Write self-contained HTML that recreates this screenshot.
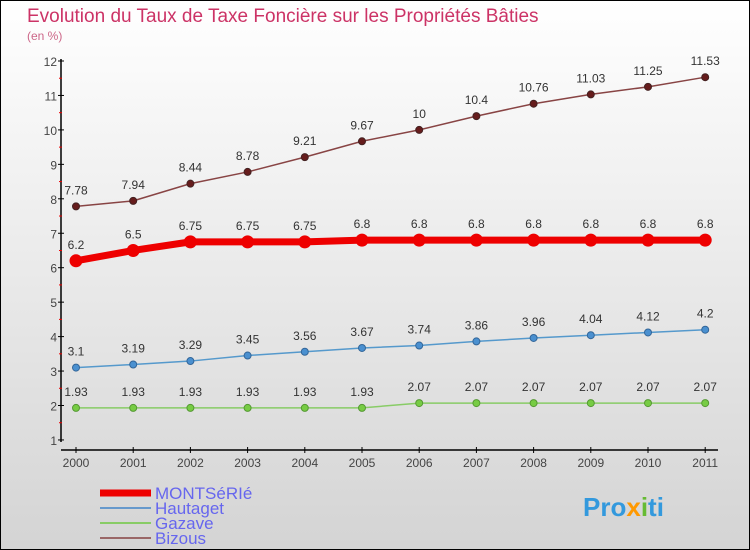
<!DOCTYPE html>
<html><head><meta charset="utf-8"><style>
body{margin:0}
#c{position:relative;width:750px;height:550px;box-sizing:border-box;border:1px solid #000;background:linear-gradient(#ffffff,#d4d4d4);font-family:"Liberation Sans",sans-serif;overflow:hidden}
</style></head><body>
<div id="c">
<svg width="750" height="550" style="position:absolute;left:-1px;top:-1px" id="svg">
<text x="27" y="22" font-size="19" fill="#cc3366">Evolution du Taux de Taxe Foncière sur les Propriétés Bâties</text>
<text x="27" y="40" font-size="12" fill="#cc6688">(en %)</text>
<g id="axes"></g><g id="series"></g>
<g>
<line x1="100" y1="493" x2="151" y2="493" stroke="#ee0000" stroke-width="7"/>
<text x="155" y="499" font-size="17" fill="#6666ee">MONTSéRIé</text>
<line x1="100" y1="508" x2="151" y2="508" stroke="#6699cc" stroke-width="2"/>
<text x="155" y="514" font-size="17" fill="#6666ee">Hautaget</text>
<line x1="100" y1="523" x2="151" y2="523" stroke="#88cc66" stroke-width="2"/>
<text x="155" y="529" font-size="17" fill="#6666ee">Gazave</text>
<line x1="100" y1="538" x2="151" y2="538" stroke="#996666" stroke-width="2"/>
<text x="155" y="544" font-size="17" fill="#6666ee">Bizous</text>
</g>
<text x="583" y="516" font-size="26" font-weight="bold" fill="#3399dd">Pro<tspan fill="#ff9900">x</tspan><tspan fill="#66bb33">i</tspan>ti</text>
</svg>
</div>
<script>
const years=[2000,2001,2002,2003,2004,2005,2006,2007,2008,2009,2010,2011];
const yTicks=[1,2,3,4,5,6,7,8,9,10,11,12];
const montserie=[6.2,6.5,6.75,6.75,6.75,6.8,6.8,6.8,6.8,6.8,6.8,6.8];
const hautaget=[3.1,3.19,3.29,3.45,3.56,3.67,3.74,3.86,3.96,4.04,4.12,4.2];
const gazave=[1.93,1.93,1.93,1.93,1.93,1.93,2.07,2.07,2.07,2.07,2.07,2.07];
const bizous=[7.78,7.94,8.44,8.78,9.21,9.67,10,10.4,10.76,11.03,11.25,11.53];
const labM=["6.2","6.5","6.75","6.75","6.75","6.8","6.8","6.8","6.8","6.8","6.8","6.8"];
const labH=["3.1","3.19","3.29","3.45","3.56","3.67","3.74","3.86","3.96","4.04","4.12","4.2"];
const labG=["1.93","1.93","1.93","1.93","1.93","1.93","2.07","2.07","2.07","2.07","2.07","2.07"];
const labB=["7.78","7.94","8.44","8.78","9.21","9.67","10","10.4","10.76","11.03","11.25","11.53"];
const NS="http://www.w3.org/2000/svg";
function xs(i){return 76+i*57.2;}
function ys(v){return 61+(12-v)*34.45;}
function mk(t,a,p){const e=document.createElementNS(NS,t);for(const k in a)e.setAttribute(k,a[k]);p.appendChild(e);return e;}
const ax=document.getElementById('axes');
let l=mk('line',{x1:61,y1:59,x2:61,y2:442,stroke:'#000','stroke-width':1.5},ax);


l=mk('line',{x1:61,y1:450,x2:718,y2:450,stroke:'#000','stroke-width':1.5},ax);


yTicks.forEach(v=>{
 mk('line',{x1:58,y1:ys(v),x2:64,y2:ys(v),stroke:'#000'},ax);
 if(v<12)mk('line',{x1:59,y1:ys(v+0.5),x2:62,y2:ys(v+0.5),stroke:'#e00'},ax);
 const t=mk('text',{x:57,y:ys(v)+5,'font-size':12,fill:'#444','text-anchor':'end'},ax);t.textContent=v;
 
 
});
years.forEach((y,i)=>{
 mk('line',{x1:xs(i),y1:447,x2:xs(i),y2:453,stroke:'#000'},ax);
 const t=mk('text',{x:xs(i),y:467,'font-size':12,fill:'#444','text-anchor':'middle'},ax);t.textContent=y;
 
 
});
const sg=document.getElementById('series');
function draw(name,vals,labs,color,w,dot,dotFill,r){
 const g=mk('g',{},sg);
 
 
 const p=mk('polyline',{points:vals.map((v,i)=>xs(i)+','+ys(v)).join(' '),fill:'none',stroke:color,'stroke-width':w,'stroke-linejoin':'round'},g);
 
 
 vals.forEach((v,i)=>{
  const c=mk('circle',{cx:xs(i),cy:ys(v),r:r,fill:dotFill,stroke:dot,'stroke-width':1},g);
  
  
  const t=mk('text',{x:xs(i),y:ys(v)-12,'font-size':12,fill:'#333','text-anchor':'middle'},g);t.textContent=labs[i];
  
  
 });
}
draw('bizous',bizous,labB,'#884444',1.5,'#442222','#661c1c',3.5);
draw('hautaget',hautaget,labH,'#5599cc',1.5,'#336699','#4a90d0',3.5);
draw('gazave',gazave,labG,'#88cc66',1.5,'#559933','#77cc44',3.5);
draw('montserie',montserie,labM,'#ee0000',7,'#ee0000','#ee0000',6);
</script>
</body></html>
